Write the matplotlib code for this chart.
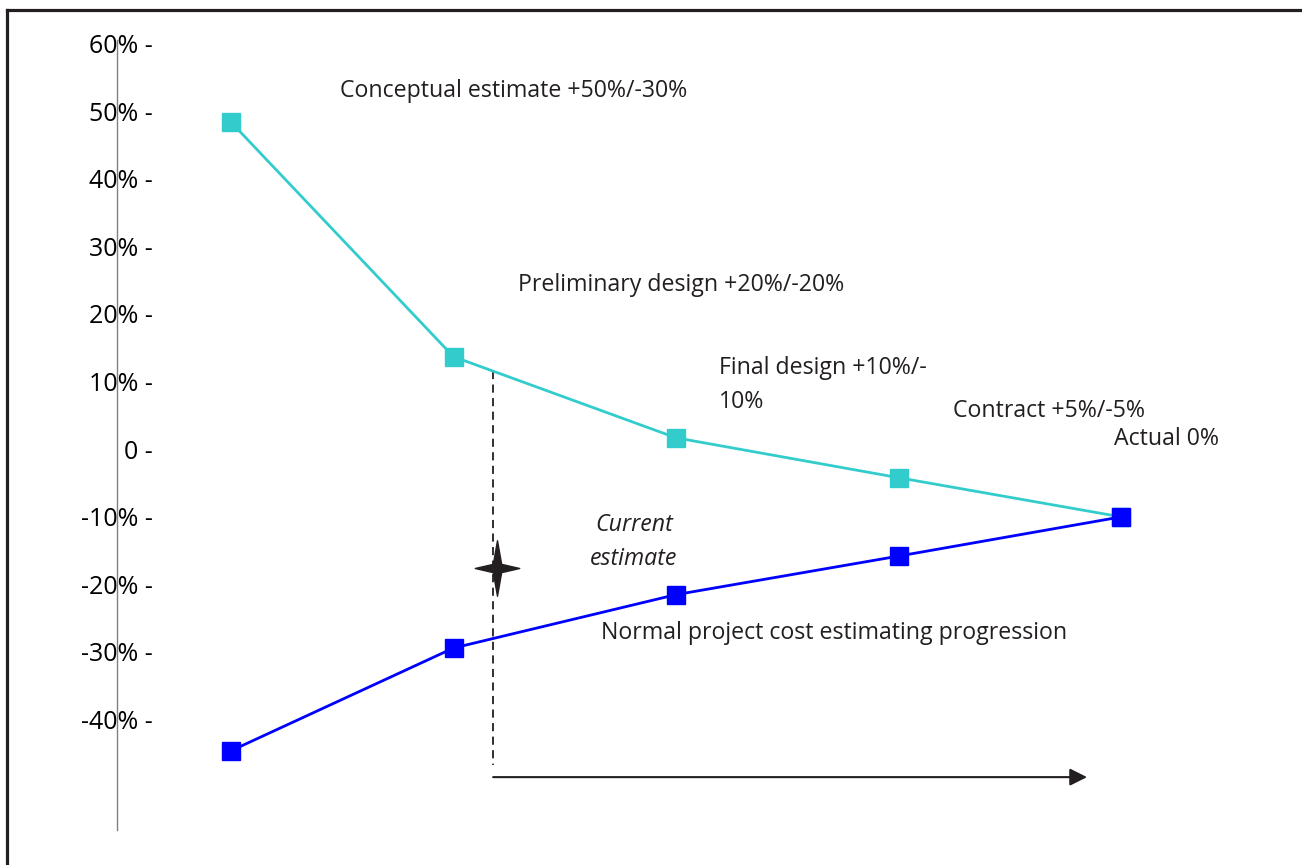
import matplotlib
matplotlib.use("Agg")
import matplotlib.pyplot as plt
from matplotlib.lines import Line2D
from matplotlib.path import Path

plt.rcParams['font.family'] = ['Open Sans', 'DejaVu Sans']

# Estimate range at each project stage (percent of actual cost)
stages = ['Conceptual estimate', 'Preliminary design', 'Final design', 'Contract', 'Actual']
upper_bound = [48.5, 13.8, 1.8, -4.1, -9.9]
lower_bound = [-44.5, -29.3, -21.4, -15.7, -9.9]

tick_values = [60, 50, 40, 30, 20, 10, 0, -10, -20, -30, -40]
tick_labels = ['60%', '50%', '40%', '30%', '20%', '10%', '0', '-10%', '-20%', '-30%', '-40%']

stage_labels = ['Conceptual estimate +50%/-30%', 'Preliminary design +20%/-20%',
                'Final design +10%/-\n10%', 'Contract +5%/-5%', 'Actual 0%']

CYAN = '#33CCCC'
BLUE = '#0000FF'
INK = '#231f20'
FS = 16.7
TICK_FS = 18
LS = 1.54
DY = -0.3  # small downward nudge for text baselines

fig = plt.figure(figsize=(13.02, 8.65), dpi=100)
ax = fig.add_axes([0, 0, 1, 1])
ax.set_xlim(-1.038, 4.813)
ax.set_ylim(-61.4, 66.57)
ax.axis('off')

# frame around the drawing
fig.add_artist(Line2D([6.5 / 1302, 1.01], [1 - 10 / 865, 1 - 10 / 865],
                      transform=fig.transFigure, color=INK, lw=2.3))
fig.add_artist(Line2D([6.5 / 1302, 6.5 / 1302], [1 - 10 / 865, -0.01],
                      transform=fig.transFigure, color=INK, lw=2.3))

# vertical axis
ax.plot([-0.512, -0.512], [60.65, -56.2], color='#808080', lw=1.0)
for v, lab in zip(tick_values, tick_labels):
    ax.text(-0.3506, v + DY, lab + ' -', ha='right', va='center', fontsize=TICK_FS, color='black')

x = list(range(len(stages)))
ax.plot(x, upper_bound, color=CYAN, lw=2.0, marker='s', markersize=13.3,
        markerfacecolor=CYAN, markeredgecolor=CYAN, zorder=3)
ax.plot(x, lower_bound, color=BLUE, lw=2.0, marker='s', markersize=13.3,
        markerfacecolor=BLUE, markeredgecolor=BLUE, zorder=4)

# current position marker: dashed drop line, star and progression arrow
xc = 1.178
y_top = upper_bound[1] + (upper_bound[2] - upper_bound[1]) * (xc - 1)
ax.plot([xc, xc], [y_top, -46.6], color=INK, lw=1.3, dashes=(4.5, 3))
star = Path([(0, 1), (0.15, 0.15), (0.8, 0), (0.15, -0.15), (0, -1),
             (-0.15, -0.15), (-0.8, 0), (-0.15, 0.15), (0, 1)],
            [Path.MOVETO] + [Path.LINETO] * 7 + [Path.CLOSEPOLY])
ax.plot([1.196], [-17.5], marker=star, markersize=40, color=INK, zorder=5)
ax.annotate('', xy=(3.847, -48.4), xytext=(xc, -48.4),
            arrowprops=dict(arrowstyle='-|>', color=INK, lw=1.5,
                            mutation_scale=26, shrinkA=0, shrinkB=0))

# stage annotations
label_pos = [(0.49, 53.4), (1.29, 24.7), (2.193, 9.9), (3.245, 6.07), (3.969, 1.92)]
for (lx, ly), lab in zip(label_pos, stage_labels):
    ax.text(lx, ly + DY, lab, ha='left', va='center', fontsize=FS, color=INK, linespacing=LS)

ax.text(1.811, -13.3 + DY, 'Current\nestimate', ha='center', va='center', fontsize=FS,
        style='italic', color=INK, linespacing=LS)
ax.text(1.663, -26.8 + DY, 'Normal project cost estimating progression', ha='left',
        va='center', fontsize=FS, color=INK)

fig.savefig('out.png', dpi=100)
